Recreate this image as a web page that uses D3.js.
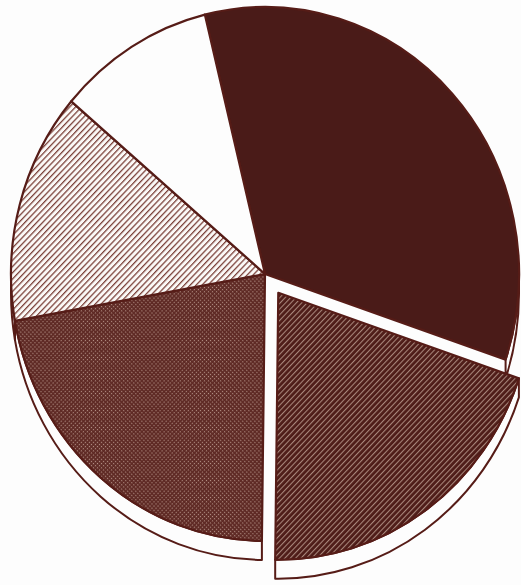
<!DOCTYPE html>
<html>
<head>
<meta charset="utf-8">
<script src="https://cdn.jsdelivr.net/npm/d3@7"></script>
<style>
  html, body { margin: 0; padding: 0; background: #fdfdfd; }
  svg { display: block; }
</style>
</head>
<body>
<svg id="chart" width="521" height="585"></svg>
<script>
// ---- data (shares of the pie, clockwise from the solid dark slice) ----
const categories = ["A", "B", "C", "D", "E"];
const values     = [34, 20, 22, 14, 10];
const fills      = ["solid", "darkHatch", "crossDot", "lightHatch", "white"];
const exploded   = [false, true, false, false, false];

const W = 521, H = 585;
const cx = 265, cy = 274;      // pie centre on the page
const rx = 254, ry = 267;      // ellipse radii of the top face
const depth = 19;              // visible thickness
const explodeDist = 23;
const startDeg = -13.7;
const stroke = "#561c17";

const svg = d3.select("#chart");
const defs = svg.append("defs");

// patterns
const pLight = defs.append("pattern").attr("id", "lightHatch")
  .attr("patternUnits", "userSpaceOnUse").attr("width", 4.4).attr("height", 4.4)
  .attr("patternTransform", "rotate(45)");
pLight.append("rect").attr("width", 4.4).attr("height", 4.4).attr("fill", "#fbf9f7");
pLight.append("rect").attr("x", 0).attr("y", 0).attr("width", 1.3).attr("height", 4.4).attr("fill", "#7a4038");

const pDark = defs.append("pattern").attr("id", "darkHatch")
  .attr("patternUnits", "userSpaceOnUse").attr("width", 4).attr("height", 4)
  .attr("patternTransform", "rotate(45)");
pDark.append("rect").attr("width", 4).attr("height", 4).attr("fill", "#4e1c18");
pDark.append("rect").attr("x", 0).attr("y", 0).attr("width", 1.1).attr("height", 4).attr("fill", "#a8867b");

const pCross = defs.append("pattern").attr("id", "crossDot")
  .attr("patternUnits", "userSpaceOnUse").attr("width", 3).attr("height", 3)
  .attr("patternTransform", "rotate(45)");
pCross.append("rect").attr("width", 3).attr("height", 3).attr("fill", "#5e2924");
pCross.append("rect").attr("x", 0).attr("y", 0).attr("width", 1.2).attr("height", 1.2).attr("fill", "#b39085");

const fillFor = f => f === "solid" ? "#4a1b18" : f === "white" ? "#fdfdfd" : `url(#${f})`;

const pie = d3.pie().sort(null).value(d => d)
  .startAngle(startDeg * Math.PI / 180)
  .endAngle(startDeg * Math.PI / 180 + 2 * Math.PI);
const arcs = pie(values);

const arc = d3.arc().innerRadius(0).outerRadius(ry);
const sx = rx / ry;

function offsetOf(i) {
  if (!exploded[i]) return [0, 0];
  const a = (arcs[i].startAngle + arcs[i].endAngle) / 2;
  return [explodeDist * Math.sin(a), -explodeDist * Math.cos(a)];
}

// side wall visible between angles PI/2 and 3PI/2
function wallPath(d) {
  let a0 = Math.max(d.startAngle, Math.PI / 2);
  let a1 = Math.min(d.endAngle, 3 * Math.PI / 2);
  if (a1 <= a0) {
    const lo2 = Math.max(d.startAngle - 2 * Math.PI, Math.PI / 2);
    const hi2 = Math.min(d.endAngle - 2 * Math.PI, 3 * Math.PI / 2);
    if (hi2 <= lo2) return null;
    a0 = lo2; a1 = hi2;
  }
  const p = d3.path();
  p.moveTo(ry * Math.sin(a0), -ry * Math.cos(a0));
  p.arc(0, 0, ry, a0 - Math.PI / 2, a1 - Math.PI / 2, false);
  p.lineTo(ry * Math.sin(a1), -ry * Math.cos(a1) + depth);
  p.arc(0, depth, ry, a1 - Math.PI / 2, a0 - Math.PI / 2, true);
  p.closePath();
  return p.toString();
}

function drawSlice(i) {
  const d = arcs[i];
  const [ox, oy] = offsetOf(i);
  const g = svg.append("g")
    .attr("transform", `translate(${cx + ox},${cy + oy}) scale(${sx},1)`);
  const wp = wallPath(d);
  if (wp) {
    g.append("path").attr("d", wp)
      .attr("fill", "#fdfdfd").attr("stroke", stroke).attr("stroke-width", 2)
      .attr("stroke-linejoin", "round")
      .attr("vector-effect", "non-scaling-stroke");
  }
  g.append("path").attr("d", arc(d))
    .attr("fill", fillFor(fills[i]))
    .attr("stroke", stroke).attr("stroke-width", 2.2)
    .attr("stroke-linejoin", "round")
    .attr("vector-effect", "non-scaling-stroke");
}

// non-exploded slices first, exploded slice on top
values.forEach((v, i) => { if (!exploded[i]) drawSlice(i); });
values.forEach((v, i) => { if (exploded[i]) drawSlice(i); });
</script>
</body>
</html>
